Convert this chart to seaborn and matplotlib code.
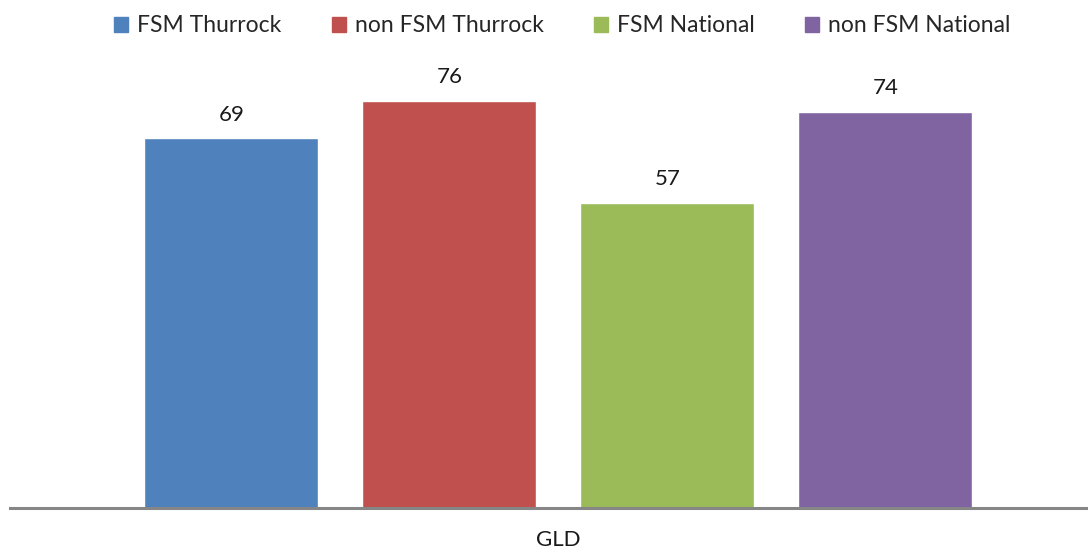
import pandas as pd
import matplotlib.pyplot as plt
import seaborn as sns

# --- Data ---
groups = ['FSM Thurrock', 'non FSM Thurrock', 'FSM National', 'non FSM National']
values = [69, 76, 57, 74]
category = 'GLD'
colors = ['#4F81BD', '#C0504D', '#9BBB59', '#8064A2']

df = pd.DataFrame({'measure': [category] * len(groups), 'group': groups, 'value': values})

sns.set_theme(style='white')
plt.rcParams['font.family'] = ['Lato', 'DejaVu Sans']

fig = plt.figure(figsize=(10.88, 5.51), dpi=100)
ax = fig.add_axes([0.0092, 0.078, 0.9908, 0.840])

sns.barplot(data=df, x='measure', y='value', hue='group', hue_order=groups,
            palette=colors, width=0.8, gap=0.2, saturation=1, ax=ax, legend=False)

for cont in ax.containers:
    ax.bar_label(cont, padding=10, fontsize=16, color='#1a1a1a')

ax.set_xlim(-0.503, 0.486)
ax.set_ylim(0, 86.4)
ax.set_yticks([])
ax.set_xticks([])
ax.set_xlabel('')
ax.set_ylabel('')
for side in ['left', 'right', 'top']:
    ax.spines[side].set_visible(False)
ax.spines['bottom'].set_color('#868686')
ax.spines['bottom'].set_linewidth(2.2)

ax.text(0, -0.07, category, transform=ax.get_xaxis_transform(), ha='center', va='center',
        fontsize=16, color='#1a1a1a')

handles = [plt.Rectangle((0, 0), 1, 1, color=c) for c in colors]
fig.legend(handles, groups, loc='center', bbox_to_anchor=(0.517, 0.953), ncol=4,
           frameon=False, fontsize=16.5, handlelength=0.6, handleheight=0.6,
           handletextpad=0.4, columnspacing=2.2)

plt.savefig('out.png', dpi=100)
plt.close()
